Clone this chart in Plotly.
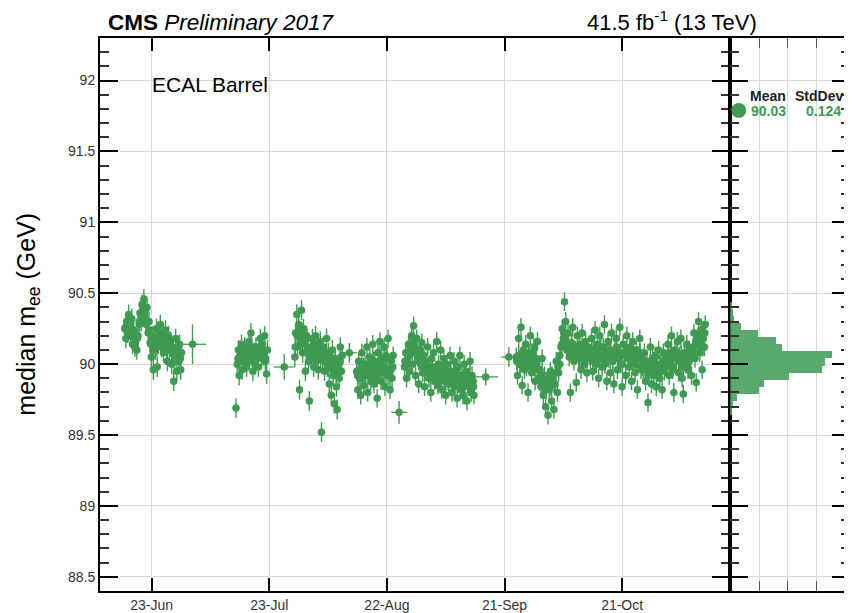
import numpy as np
import pandas as pd
import plotly.graph_objects as go

# ---------------- data (day-of-year 2017, median m_ee in GeV) ----------------
a_day = [167.1,167.4,167.6,167.9,168.1,168.4,168.6,168.9,169.1,169.4,
         169.7,169.9,170.2,170.5,170.8,171.0,171.3,171.5,171.8,172.0,
         172.3,172.6,172.8,173.1,173.3,173.6,173.9,174.1,174.4,174.6,
         174.9,175.2,175.4,175.7,175.9,176.2,176.5,176.7,177.0,177.2,
         177.5,177.8,178.0,178.3,178.5,178.8,179.1,179.3,179.6,179.8,
         180.1,180.4,180.6,180.9,181.1,181.4,181.6]
a_mass = [90.25,90.18,90.30,90.22,90.35,90.27,90.20,90.32,90.14,90.24,
          90.12,90.18,90.10,90.20,90.28,90.36,90.30,90.42,90.33,90.46,
          90.38,90.28,90.40,90.22,90.30,90.15,90.05,90.20,89.96,90.18,
          90.10,90.25,89.98,90.14,90.20,90.28,90.12,90.22,90.08,90.18,
          90.24,90.15,90.02,90.20,90.10,90.16,90.00,90.12,89.88,90.06,
          90.18,89.95,90.10,90.02,90.14,89.96,90.08]
a_day2 = [167.3,167.8,168.3,168.8,169.3,169.8,170.3,170.8,171.3,171.8,
          172.3,172.8,173.3,173.8,174.3,174.8,175.3,175.8,176.3,176.8,
          177.3,177.8,178.3,178.8,179.3,179.8,180.3,180.8,181.3]
a_mass2 = [90.26,90.22,90.28,90.24,90.20,90.15,90.18,90.30,90.34,90.38,
           90.33,90.30,90.24,90.14,90.10,90.16,90.12,90.18,90.20,90.14,
           90.17,90.10,90.15,90.12,90.08,90.02,90.06,90.10,90.04]

b1_day = [195.5,
          195.8,196.1,196.3,196.6,196.9,197.1,197.4,197.7,197.9,198.2,
          198.5,198.8,199.0,199.3,199.6,199.8,200.1,200.4,200.6,200.9,
          201.2,201.4,201.7,202.0,202.2,202.5,202.8,203.0,203.3,203.5]
b1_mass = [89.69,
           90.00,90.10,89.92,90.06,90.14,89.96,90.04,90.12,90.08,89.98,
           90.02,90.16,90.10,90.22,90.05,89.95,90.08,90.00,90.12,90.06,
           89.98,90.10,90.18,90.04,90.14,90.08,90.20,90.02,89.93,90.10]
b1_day2 = [196.0,196.5,197.0,197.5,198.0,198.5,199.0,199.5,200.0,200.5,
           201.0,201.5,202.0,202.5,203.0]
b1_mass2 = [90.04,90.02,90.08,90.06,90.02,90.10,90.06,90.12,90.02,90.08,
            90.04,90.12,90.10,90.06,90.04]

b2_day = [210.5,210.7,211.0,211.2,211.5,211.7,212.0,212.2,212.5,212.7,
          213.0,213.2,213.5,213.7,214.0,214.2,214.5,214.8,215.0,215.3,
          215.5,215.8,216.0,216.3,216.5,216.8,217.0,217.3,217.6,217.8,
          218.1,218.3,218.6,218.8,219.1,219.3,219.6,219.8,220.1,220.3,
          220.6,220.8,221.1,221.3,221.6,221.8,222.1,222.4,222.6]
b2_mass = [90.05,90.22,90.35,90.12,90.28,89.82,90.18,90.38,90.08,90.25,
           90.15,89.95,90.20,90.10,90.02,89.74,90.12,90.05,90.18,89.98,
           90.10,90.20,90.02,90.14,89.96,90.08,90.16,89.52,90.04,90.12,
           89.95,90.06,90.18,89.98,90.08,89.86,90.02,89.78,90.10,89.92,
           89.72,90.04,89.84,89.68,90.00,89.90,90.12,89.95,90.06]
b2_day2 = [210.6,211.1,211.6,212.1,212.6,213.1,213.6,214.1,214.6,215.1,
           215.6,216.1,216.6,217.1,217.6,218.1,218.6,219.1,219.6,220.1,
           220.6,221.1,221.6,222.1]
b2_mass2 = [90.12,90.20,90.24,90.16,90.22,90.14,90.18,90.06,90.10,90.08,
            90.14,90.06,90.10,90.04,90.08,90.02,90.06,89.98,90.04,89.96,
            90.00,89.92,89.96,90.02]

c1_day = [226.3,226.6,226.8,227.1,227.3,227.6,227.8,228.1,228.4,228.6,
          228.9,229.1,229.4,229.6,229.9,230.2,230.4,230.7,230.9,231.2,
          231.5,231.7,232.0,232.2,232.5,232.7,233.0,233.3,233.5,233.8,
          234.0,234.3,234.6,234.8,235.1,235.3,235.6]
c1_mass = [89.95,89.82,90.02,89.90,89.78,90.08,89.94,89.85,90.00,89.92,
           90.12,89.80,89.96,90.05,89.88,89.98,90.14,89.86,90.02,89.92,
           89.76,90.08,89.95,90.16,89.88,90.04,89.98,90.12,89.84,90.06,
           89.92,90.18,89.96,89.82,90.02,89.90,90.06]
c1_day2 = [226.5,227.0,227.5,228.0,228.5,229.0,229.5,230.0,230.5,231.0,
           231.5,232.0,232.5,233.0,233.5,234.0,234.5,235.0,235.5]
c1_mass2 = [89.92,89.96,89.90,89.98,89.94,90.00,89.92,89.96,90.02,89.94,
            89.90,89.98,90.02,89.94,89.98,90.04,89.92,89.96,89.98]

c2_day = [238.5,238.8,239.0,239.3,239.5,239.8,240.0,240.3,240.5,240.8,
          241.1,241.3,241.6,241.8,242.1,242.3,242.6,242.9,243.1,243.4,
          243.6,243.9,244.1,244.4,244.7,244.9,245.2,245.4,245.7,245.9,
          246.2,246.5,246.7,247.0,247.2,247.5,247.7,248.0,248.3,248.5,
          248.8,249.0,249.3,249.5,249.8,250.1,250.3,250.6,250.8,251.1,
          251.3,251.6,251.9,252.1,252.4,252.6,252.9,253.1,253.4,253.7,
          253.9,254.2,254.4,254.7,254.9,255.2,255.5,255.7,256.0,256.2]
c2_mass = [89.98,90.08,89.90,90.04,90.14,89.95,90.10,90.20,90.00,90.27,
           90.12,89.92,90.18,90.05,89.86,90.10,90.00,90.15,89.94,90.06,
           89.84,90.02,89.95,90.12,89.90,89.98,89.80,90.04,89.92,90.08,
           89.88,89.96,90.16,89.85,90.00,89.92,90.10,89.82,89.96,90.04,
           89.88,89.78,90.00,89.92,89.86,90.06,89.95,89.80,89.90,90.02,
           89.84,89.94,89.76,89.98,89.88,90.06,89.82,89.92,89.78,90.00,
           89.86,89.95,89.74,89.90,89.84,90.02,89.80,89.92,89.88,89.78]
c2_day2 = [238.6,239.1,239.6,240.1,240.6,241.1,241.6,242.1,242.6,243.1,
           243.6,244.1,244.6,245.1,245.6,246.1,246.6,247.1,247.6,248.1,
           248.6,249.1,249.6,250.1,250.6,251.1,251.6,252.1,252.6,253.1,
           253.6,254.1,254.6,255.1,255.6,256.1]
c2_mass2 = [90.02,90.00,90.06,90.12,90.16,90.08,90.10,90.02,90.06,89.98,
            89.94,90.00,89.96,89.92,89.98,89.94,89.90,89.96,89.92,89.98,
            89.90,89.94,89.88,89.92,89.86,89.94,89.90,89.86,89.92,89.88,
            89.84,89.90,89.86,89.92,89.88,89.84]

d_day = [267.0,267.3,267.6,267.9,268.2,268.5,268.8,269.1,269.4,269.7,
         270.0,270.3,270.6,270.9,271.2,271.5,271.8,272.1,272.4,272.7,
         273.0,273.3,273.6,273.9,274.2,274.5,274.8,275.1,275.4,275.7,
         276.0,276.3,276.6,276.9,277.2,277.5,277.8,
         278.1,278.4,278.7,279.0,279.3,279.6,279.9,280.2,280.5,280.8,
         281.1,281.4,281.7,
         282.0,282.3,282.6,282.9,283.2,283.5,283.8,284.1,284.4,284.7,
         285.0,285.3,285.6]
d_mass = [90.05,89.92,90.18,90.00,90.26,89.85,90.10,89.96,90.14,90.02,
          89.80,90.08,90.20,89.94,90.04,90.12,89.88,90.00,90.16,89.90,
          89.96,89.84,90.04,89.78,89.92,89.70,89.88,89.64,89.82,89.95,
          89.74,89.90,89.68,89.86,90.02,89.80,89.94,
          90.00,90.12,90.25,90.18,90.44,90.30,90.10,90.22,90.05,89.80,
          90.15,90.26,90.02,
          90.10,89.87,90.20,90.04,90.14,89.96,90.22,90.08,90.00,90.16,
          89.94,90.12,90.06]
d_day2 = [267.1,267.6,268.1,268.6,269.1,269.6,270.1,270.6,271.1,271.6,
          272.1,272.6,273.1,273.6,274.1,274.6,275.1,275.6,276.1,276.6,
          277.1,277.6,278.1,278.6,279.1,279.6,280.1,280.6,281.1,281.6,
          282.1,282.6,283.1,283.6,284.1,284.6,285.1]
d_mass2 = [90.02,90.06,90.00,90.08,90.04,89.98,90.06,90.02,90.08,89.98,
           90.04,89.96,89.92,89.86,89.90,89.82,89.88,89.84,89.92,89.86,
           89.94,89.98,90.06,90.14,90.22,90.18,90.12,90.08,90.14,90.10,
           90.06,90.12,90.04,90.10,90.06,90.12,90.04]

e_day = [285.9,286.2,286.5,286.8,287.1,287.4,287.7,288.0,288.3,288.6,
         288.9,289.2,289.5,289.8,290.1,290.4,290.7,291.0,291.3,291.6,
         291.9,292.2,292.5,292.8,293.1,293.4,293.7,294.0,294.3,294.6,
         294.9,295.2,295.5,295.8,296.1,296.4,296.7,297.0,297.3,297.6,
         297.9,298.2,298.5,298.8,299.1,
         299.4,299.7,300.0,300.3,300.6,300.9,301.2,301.5,301.8,302.1,
         302.4,302.7,303.0,303.3,303.6,303.9,304.2,304.5,304.8,305.1,
         305.4,305.7,306.0,306.3,306.6,306.9,307.2,307.5,307.8,308.1,
         308.4,308.7,309.0,309.3,309.6,309.9,310.2,310.5,310.8,311.1,
         311.4,311.7,
         312.0,312.3,312.6,312.9,313.2,313.5,313.8,314.1,314.4,314.7,
         315.0,315.2]
e_mass = [90.04,90.18,89.95,90.10,90.24,90.00,90.14,89.90,90.20,90.06,
          89.98,90.12,90.28,90.02,89.88,90.16,90.08,89.94,90.22,90.04,
          89.86,90.10,90.18,89.96,90.06,90.26,90.00,89.84,90.14,90.08,
          89.92,90.20,90.04,89.98,90.12,89.88,90.16,90.02,89.94,90.10,
          89.82,90.06,90.18,89.96,90.04,
          89.96,90.08,89.88,90.02,89.73,89.94,90.12,89.86,90.04,89.92,
          90.06,89.84,89.98,90.10,89.90,90.00,89.82,90.08,89.95,90.04,
          90.02,90.14,89.92,90.08,90.20,89.96,89.80,90.10,90.04,90.16,
          89.94,90.06,90.18,89.90,89.79,90.08,90.00,90.14,89.96,90.10,
          90.04,89.92,
          90.10,90.22,90.04,89.87,90.16,90.30,90.08,90.24,89.96,90.18,
          90.12,90.28]
e_day2 = [286.1,286.6,287.1,287.6,288.1,288.6,289.1,289.6,290.1,290.6,
          291.1,291.6,292.1,292.6,293.1,293.6,294.1,294.6,295.1,295.6,
          296.1,296.6,297.1,297.6,298.1,298.6,299.1,299.6,300.1,300.6,
          301.1,301.6,302.1,302.6,303.1,303.6,304.1,304.6,305.1,305.6,
          306.1,306.6,307.1,307.6,308.1,308.6,309.1,309.6,310.1,310.6,
          311.1,311.6,312.1,312.6,313.1,313.6,314.1,314.6,315.1]
e_mass2 = [90.06,90.10,90.02,90.08,90.04,90.12,90.06,90.00,90.08,90.04,
           90.10,90.02,90.06,90.12,90.04,90.08,90.00,90.06,90.10,90.04,
           90.08,90.02,90.06,90.00,90.04,90.08,89.98,90.02,89.96,89.92,
           90.00,89.96,90.02,89.98,89.94,90.00,89.96,90.02,89.98,90.06,
           90.02,90.08,89.98,90.04,90.08,90.02,90.06,89.98,90.04,90.08,
           90.02,90.06,90.12,90.08,90.18,90.14,90.20,90.12,90.22]

# typical statistical uncertainty of each period (GeV)
seg_err = [0.07, 0.07, 0.07, 0.065, 0.065, 0.065, 0.065]

# long-interval points (with horizontal extent in days)
wide_day = [184.4, 207.8, 224.4, 237.1, 259.2, 265.1]
wide_mass = [90.14, 89.98, 90.08, 89.66, 89.91, 90.05]
wide_xerr = [3.5, 2.7, 2.0, 2.0, 3.2, 2.0]
wide_yerr = [0.14, 0.09, 0.07, 0.08, 0.06, 0.07]

# projected distribution (bin centre, relative counts)
hist_center = [90.415, 90.365, 90.315, 90.265, 90.215, 90.165, 90.115, 90.065,
               90.015, 89.965, 89.915, 89.865, 89.815, 89.765, 89.715, 89.665]
hist_count = [0.05, 0.10, 0.13, 0.39, 0.96, 1.59, 1.80, 3.54,
              3.30, 3.19, 2.05, 1.20, 1.02, 0.25, 0.12, 0.05]

mean_txt = "90.03"
std_txt = "0.124"
tick_days = [174, 204, 234, 264, 294]
tick_text = ["23-Jun", "23-Jul", "22-Aug", "21-Sep", "21-Oct"]

# ---------------- build ----------------
def to_date(d):
    return pd.Timestamp("2017-01-01") + pd.to_timedelta(np.asarray(d, dtype=float) - 1, unit="D")

segs = [(a_day, a_mass, a_day2, a_mass2),
        (b1_day, b1_mass, b1_day2, b1_mass2),
        (b2_day, b2_mass, b2_day2, b2_mass2),
        (c1_day, c1_mass, c1_day2, c1_mass2),
        (c2_day, c2_mass, c2_day2, c2_mass2),
        (d_day, d_mass, d_day2, d_mass2),
        (e_day, e_mass, e_day2, e_mass2)]
all_day, all_mass, all_err = [], [], []
for (d1, m1, d2, m2), ee in zip(segs, seg_err):
    for dd, mm in ((d1, m1), (d2, m2)):
        n = min(len(dd), len(mm))
        all_day += dd[:n]
        all_mass += mm[:n]
        all_err += [ee] * n

# horizontal extents of the long-interval points
hx, hy = [], []
for d, m, e in zip(wide_day, wide_mass, wide_xerr):
    hx += [to_date(d - e), to_date(d + e), None]
    hy += [m, m, None]

GREEN = "#3f9a52"
FONT = "Liberation Sans, Arial, Helvetica, sans-serif"

fig = go.Figure()
fig.add_trace(go.Scatter(
    x=hx, y=hy, mode="lines", line=dict(color=GREEN, width=1.3),
    xaxis="x", yaxis="y", showlegend=False, hoverinfo="skip"))
fig.add_trace(go.Scatter(
    x=to_date(all_day), y=all_mass, mode="markers",
    marker=dict(color=GREEN, size=7.5),
    error_y=dict(type="data", array=all_err, color=GREEN, thickness=1.4, width=0),
    xaxis="x", yaxis="y", showlegend=False))
fig.add_trace(go.Scatter(
    x=to_date(wide_day), y=wide_mass, mode="markers",
    marker=dict(color=GREEN, size=7.5),
    error_y=dict(type="data", array=wide_yerr, color=GREEN, thickness=1.4, width=0),
    xaxis="x", yaxis="y", showlegend=False))
fig.add_trace(go.Bar(
    y=hist_center, x=hist_count, orientation="h", width=0.05,
    marker=dict(color="#5aa96c", line=dict(width=0)),
    xaxis="x2", yaxis="y2", showlegend=False))

# page is rendered with an 8 px body margin: figure origin sits at page (8, 8)
OFF = 8
W, H = 852 - OFF, 613 - OFF
ML, MR, MT, MB = 100 - OFF, 0, 38 - OFF, 613 - 592
pw = W - ML - MR
ph = H - MT - MB
split = (732 - 100) / pw


def px(x):  # page x -> paper
    return (x - 100) / pw


def py(y):  # page y -> paper
    return (592 - y) / ph


axis_common = dict(showline=True, linecolor="black", linewidth=2,
                   gridcolor="#d9d9d9", gridwidth=1, zeroline=False)

fig.update_layout(
    width=W, height=H,
    margin=dict(l=ML, r=MR, t=MT, b=MB),
    paper_bgcolor="white", plot_bgcolor="white",
    font=dict(family=FONT, color="black"),
    bargap=0,
    xaxis=dict(domain=[0, split], type="date",
               range=[to_date(160.8), to_date(321.6)],
               tickvals=to_date(tick_days), ticktext=tick_text,
               ticks="inside", ticklen=13, tickcolor="black", tickwidth=1.5,
               mirror="allticks", showgrid=True,
               tickfont=dict(size=14, color="#333"), anchor="y",
               **axis_common),
    yaxis=dict(range=[88.4, 92.3], dtick=0.5, tick0=88.5,
               ticks="inside", ticklen=18, tickcolor="black", tickwidth=1.5,
               minor=dict(dtick=0.1, ticklen=9, ticks="inside", tickcolor="#333", showgrid=False),
               mirror="allticks", showgrid=True,
               tickfont=dict(size=14, color="#333"), anchor="x",
               **axis_common),
    xaxis2=dict(domain=[split, 1], range=[0, 4.17], dtick=1, tick0=0,
                showticklabels=False, ticks="inside", ticklen=10, tickcolor="#555",
                mirror="allticks", showgrid=True, anchor="y2",
                **axis_common),
    yaxis2=dict(matches="y", anchor="x2", dtick=0.5, tick0=88.5,
                showticklabels=False, ticks="inside", ticklen=18, tickcolor="black", tickwidth=1.5,
                minor=dict(dtick=0.1, ticklen=9, ticks="inside", tickcolor="#333", showgrid=False),
                mirror="allticks", showgrid=True,
                **axis_common),
)

ann = [
    dict(x=px(106), y=py(22), text="<b>CMS</b> <i>Preliminary 2017</i>",
         xanchor="left", yanchor="middle", font=dict(size=22.5)),
    dict(x=px(761), y=py(21), text="41.5 fb<sup>-1</sup> (13 TeV)",
         xanchor="right", yanchor="middle", font=dict(size=22)),
    dict(x=px(150), y=py(85), text="ECAL Barrel",
         xanchor="left", yanchor="middle", font=dict(size=21)),
    dict(x=px(27), y=0.5, text="median m<sub>ee</sub> (GeV)", textangle=-90,
         xanchor="center", yanchor="middle", font=dict(size=25)),
    dict(x=px(770), y=py(96), text="<b>Mean</b>", xanchor="center", yanchor="middle",
         font=dict(size=14, color="#222")),
    dict(x=px(821), y=py(96), text="<b>StdDev</b>", xanchor="center", yanchor="middle",
         font=dict(size=14, color="#222")),
    dict(x=px(770), y=py(111), text="<b>" + mean_txt + "</b>", xanchor="center", yanchor="middle",
         font=dict(size=14, color=GREEN)),
    dict(x=px(825), y=py(111), text="<b>" + std_txt + "</b>", xanchor="center", yanchor="middle",
         font=dict(size=14, color=GREEN)),
]
for a in ann:
    a.update(xref="paper", yref="paper", showarrow=False)
fig.update_layout(annotations=ann)

fig.add_shape(type="circle", xref="paper", yref="paper",
              x0=px(733), x1=px(748), y0=py(118), y1=py(103),
              fillcolor=GREEN, line=dict(width=0))

fig.write_html("out.html")
